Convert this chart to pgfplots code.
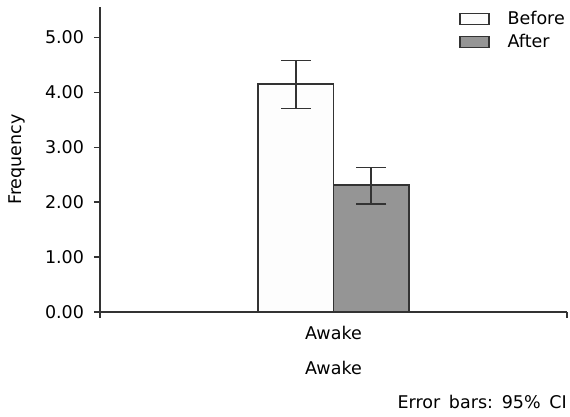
\documentclass[border=0pt]{standalone}
\usepackage{fontspec}
\setmainfont{DejaVu Sans}
\usepackage{pgfplots}
\pgfplotsset{compat=1.18}
\definecolor{axgray}{HTML}{333333}
\definecolor{afterfill}{HTML}{959595}
\definecolor{beforefill}{HTML}{FDFDFD}
\pgfplotsset{boxlegend/.style={legend image code/.code={\draw[##1] (0bp,-5.5bp) rectangle (29bp,5.5bp);}}}
\begin{document}
\fontsize{17.5bp}{21bp}\selectfont
\begin{tikzpicture}
\path[use as bounding box] (0bp,0bp) rectangle (570bp,417bp);
\begin{axis}[
  at={(100bp,105bp)}, anchor=south west,
  scale only axis, width=467bp, height=305bp,
  xmin=-1, xmax=1, ymin=0, ymax=5.55,
  axis x line*=bottom, axis y line*=left,
  axis line style={draw=axgray, line width=1.2bp},
  every tick/.style={draw=axgray, line width=1.2bp},
  tick align=outside, major tick length=6bp,
  ybar=0pt, bar width=75.5bp,
  ytick={0,1,2,3,4,5},
  /pgf/number format/assume math mode=true,
  yticklabel style={xshift=-4bp, /pgf/number format/fixed, /pgf/number format/fixed zerofill, /pgf/number format/precision=2},
  xtick={-1,1}, xticklabels={},
  extra x ticks={0}, extra x tick labels={Awake},
  extra x tick style={major tick length=0pt, xticklabel style={yshift=-8bp}},
  xlabel={Awake},
  xlabel style={yshift=-4bp},
  ylabel={Frequency},
  ylabel style={yshift=8bp},
  legend style={at={(1,1)}, anchor=north east, yshift=-2bp, draw=none, fill=none, inner sep=0pt, row sep=3bp, column sep=16bp},
  legend cell align=left,
]
\addplot+[draw=axgray, fill=beforefill, line width=1.2bp, boxlegend,
  error bars/.cd, y dir=both, y explicit,
  error bar style={line width=1.6bp, draw=axgray},
  error mark options={rotate=90, mark size=15bp, line width=1.6bp, draw=axgray}]
  table[x=x, y=y, y error plus=ep, y error minus=em] {
x y ep em
0 4.15 0.43 0.45
};
\addlegendentry{Before}
\addplot+[draw=axgray, fill=afterfill, line width=1.2bp, boxlegend,
  error bars/.cd, y dir=both, y explicit,
  error bar style={line width=1.6bp, draw=axgray},
  error mark options={rotate=90, mark size=15bp, line width=1.6bp, draw=axgray}]
  table[x=x, y=y, y error plus=ep, y error minus=em] {
x y ep em
0 2.31 0.32 0.35
};
\addlegendentry{After}
\end{axis}
\node[anchor=east, inner sep=0pt] at (567bp,15bp) {Error\hspace{0.5em}bars:\hspace{0.5em}95\%\hspace{0.5em}CI};
\end{tikzpicture}
\end{document}
